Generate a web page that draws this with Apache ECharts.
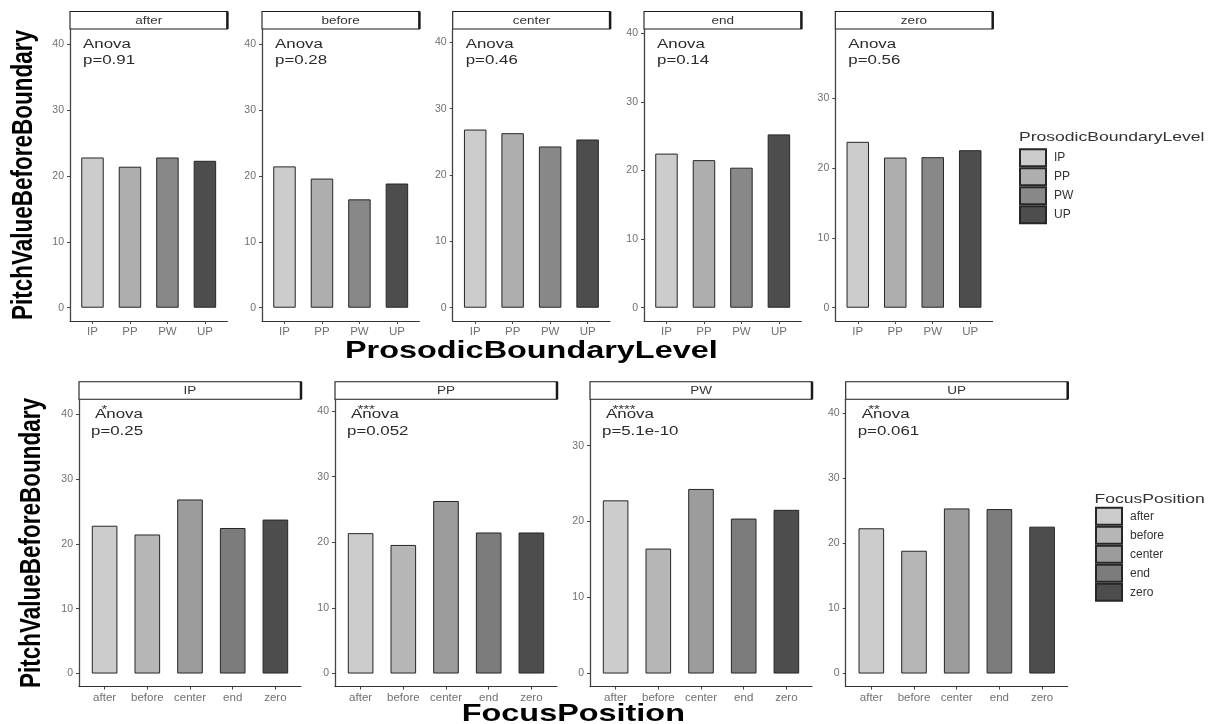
<!DOCTYPE html>
<html>
<head>
<meta charset="utf-8">
<script src="https://cdn.jsdelivr.net/npm/echarts@6/dist/echarts.min.js"></script>
<style>
html,body{margin:0;padding:0;background:#ffffff;}
#chart{width:1212px;height:724px;}
</style>
</head>
<body>
<div id="chart"></div>
<script>
// ---------------- data ----------------
const levels = ["IP", "PP", "PW", "UP"];
const focusPositions = ["after", "before", "center", "end", "zero"];
// PitchValueBeforeBoundary by FocusPosition, one value per ProsodicBoundaryLevel (IP, PP, PW, UP)
const pitchAfter  = [22.8, 21.4, 22.8, 22.3];
const pitchBefore = [21.45, 19.6, 16.45, 18.85];
const pitchCenter = [26.85, 26.3, 24.3, 25.35];
const pitchEnd    = [22.45, 21.5, 20.4, 25.25];
const pitchZero   = [23.75, 21.5, 21.55, 22.55];
const anovaTopP    = ["p=0.91", "p=0.28", "p=0.46", "p=0.14", "p=0.56"];
const anovaBottomP = ["p=0.25", "p=0.052", "p=5.1e-10", "p=0.061"];
const starsBottom  = ["*", "***", "****", "**"];
const yTickValues  = [0, 10, 20, 30, 40];
const yUpperTop    = [42.3, 42.3, 42.0, 40.6, 39.9];
const yUpperBottom = [42.3, 41.8, 36.1, 42.1];
const levelColors  = ["#cccccc", "#aeaeae", "#888888", "#4d4d4d"];
const focusColors  = ["#cccccc", "#b6b6b6", "#9c9c9c", "#7c7c7c", "#4d4d4d"];

const pitchByFocus = [pitchAfter, pitchBefore, pitchCenter, pitchEnd, pitchZero];

// ---------------- layout ----------------
const FONT = '"Liberation Sans", Arial, sans-serif';
const SX = 1.35; // horizontal stretch of the reference rendering
const topRow = { lefts: [70, 262, 452.7, 644, 835.3], width: 157.4, top: 29, height: 292, stripTop: 11.5 };
const botRow = { lefts: [79, 335, 590, 845.7], width: 222, top: 399.3, height: 287.3, stripTop: 381.7 };

const grids = [], xAxes = [], yAxes = [], series = [], graphics = [];

function addPanel(rect, cats, colors, values, upper, stripLabel, pText, stars, anovaDx, pDx) {
  const idx = grids.length;
  const n = cats.length;
  grids.push({ left: rect.left, top: rect.top, width: rect.width, height: rect.height });
  const xVals = cats.map((c, i) => i + 1);
  xAxes.push({
    type: 'value', gridIndex: idx, min: 0.4, max: n + 0.6,
    axisLine: { show: true, onZero: false, lineStyle: { color: '#333', width: 1 } },
    axisTick: { show: true, customValues: xVals, length: 3, lineStyle: { color: '#444' } },
    axisLabel: { customValues: xVals, formatter: v => cats[Math.round(v) - 1] || '',
      color: '#707070', fontSize: 11.5, fontFamily: FONT, margin: 5 },
    splitLine: { show: false }
  });
  const yVals = yTickValues.filter(t => t <= upper);
  yAxes.push({
    type: 'value', gridIndex: idx, min: -upper / 21, max: upper,
    axisLine: { show: true, onZero: false, lineStyle: { color: '#444', width: 1.3 } },
    axisTick: { show: true, customValues: yVals, length: 3, lineStyle: { color: '#444' } },
    axisLabel: { customValues: yVals, color: '#707070', fontSize: 10.5, fontFamily: FONT, margin: 6 },
    splitLine: { show: false }
  });
  const unit = rect.width / (n + 0.2);
  cats.forEach((c, i) => {
    series.push({
      type: 'bar', name: c, xAxisIndex: idx, yAxisIndex: idx,
      barWidth: unit * 0.6, barGap: '-100%',
      data: [[i + 1, values[i]]],
      itemStyle: { color: colors[i], borderColor: '#262626', borderWidth: 1 },
      silent: true, animation: false
    });
  });
  // strip
  const sh = rect.top - rect.stripTop;
  graphics.push({ type: 'rect', shape: { x: rect.left, y: rect.stripTop, width: rect.width, height: sh },
    style: { fill: '#fff', stroke: '#1a1a1a', lineWidth: 1.1 }, silent: true });
  graphics.push({ type: 'line', shape: { x1: rect.left + rect.width, y1: rect.stripTop, x2: rect.left + rect.width, y2: rect.top },
    style: { stroke: '#1a1a1a', lineWidth: 2.5 }, silent: true });
  graphics.push({ type: 'text', x: rect.left + rect.width / 2, y: rect.stripTop + sh / 2 + 0.5, scaleX: SX,
    style: { text: stripLabel, font: '10px ' + FONT, fill: '#333', textAlign: 'center', textVerticalAlign: 'middle' }, silent: true });
  // annotations
  if (stars) {
    graphics.push({ type: 'text', x: rect.left + 22.5, y: rect.top + 10.7, scaleX: SX,
      style: { text: stars, font: '11px ' + FONT, fill: '#333', textAlign: 'left', textVerticalAlign: 'middle' }, silent: true });
  }
  graphics.push({ type: 'text', x: rect.left + anovaDx, y: rect.top + 15.3, scaleX: SX,
    style: { text: 'Anova', font: '12.5px ' + FONT, fill: '#2b2b2b', textAlign: 'left', textVerticalAlign: 'middle' }, silent: true });
  graphics.push({ type: 'text', x: rect.left + pDx, y: rect.top + 32, scaleX: SX,
    style: { text: pText, font: '12.5px ' + FONT, fill: '#2b2b2b', textAlign: 'left', textVerticalAlign: 'middle' }, silent: true });
}

// top row: facets by FocusPosition, bars by ProsodicBoundaryLevel
focusPositions.forEach((f, k) => {
  addPanel({ left: topRow.lefts[k], width: topRow.width, top: topRow.top, height: topRow.height, stripTop: topRow.stripTop },
    levels, levelColors, pitchByFocus[k], yUpperTop[k], f, anovaTopP[k], null, 13, 13);
});
// bottom row: facets by ProsodicBoundaryLevel, bars by FocusPosition
levels.forEach((lv, j) => {
  addPanel({ left: botRow.lefts[j], width: botRow.width, top: botRow.top, height: botRow.height, stripTop: botRow.stripTop },
    focusPositions, focusColors, pitchByFocus.map(arr => arr[j]), yUpperBottom[j], lv, anovaBottomP[j], starsBottom[j], 16, 12);
});

// axis titles
const topCenterX = (topRow.lefts[0] + topRow.lefts[4] + topRow.width) / 2;
const botCenterX = (botRow.lefts[0] + botRow.lefts[3] + botRow.width) / 2;
graphics.push({ type: 'text', x: topCenterX, y: 351, scaleX: SX,
  style: { text: 'ProsodicBoundaryLevel', font: 'bold 24px ' + FONT, fill: '#000', textAlign: 'center', textVerticalAlign: 'middle' }, silent: true });
graphics.push({ type: 'text', x: botCenterX, y: 714.5, scaleX: SX,
  style: { text: 'FocusPosition', font: 'bold 24px ' + FONT, fill: '#000', textAlign: 'center', textVerticalAlign: 'middle' }, silent: true });
graphics.push({ type: 'text', x: 24, y: topRow.top + topRow.height / 2, rotation: Math.PI / 2, scaleY: 1.3,
  style: { text: 'PitchValueBeforeBoundary', font: 'bold 22.5px ' + FONT, fill: '#000', textAlign: 'center', textVerticalAlign: 'middle' }, silent: true });
graphics.push({ type: 'text', x: 32, y: botRow.top + botRow.height / 2, rotation: Math.PI / 2, scaleY: 1.3,
  style: { text: 'PitchValueBeforeBoundary', font: 'bold 22.5px ' + FONT, fill: '#000', textAlign: 'center', textVerticalAlign: 'middle' }, silent: true });
// legend titles
graphics.push({ type: 'text', x: 1019, y: 137, scaleX: SX,
  style: { text: 'ProsodicBoundaryLevel', font: '13px ' + FONT, fill: '#333', textAlign: 'left', textVerticalAlign: 'middle' }, silent: true });
graphics.push({ type: 'text', x: 1094.5, y: 499.5, scaleX: SX,
  style: { text: 'FocusPosition', font: '13px ' + FONT, fill: '#333', textAlign: 'left', textVerticalAlign: 'middle' }, silent: true });

const legendCommon = {
  orient: 'vertical', itemWidth: 26, itemHeight: 17, itemGap: 0, icon: 'rect', padding: 0,
  selectedMode: false,
  textStyle: { fontSize: 12, color: '#333', fontFamily: FONT, padding: [0, 0, 0, 3] }
};

const option = {
  animation: false,
  backgroundColor: '#ffffff',
  grid: grids,
  xAxis: xAxes,
  yAxis: yAxes,
  series: series,
  legend: [
    Object.assign({}, legendCommon, { data: levels, left: 1019, top: 148.3 }),
    Object.assign({}, legendCommon, { data: focusPositions, left: 1095, top: 506.7 })
  ],
  graphic: { elements: graphics }
};

const chart = echarts.init(document.getElementById('chart'), null, { renderer: 'canvas' });
chart.setOption(option);
</script>
</body>
</html>
